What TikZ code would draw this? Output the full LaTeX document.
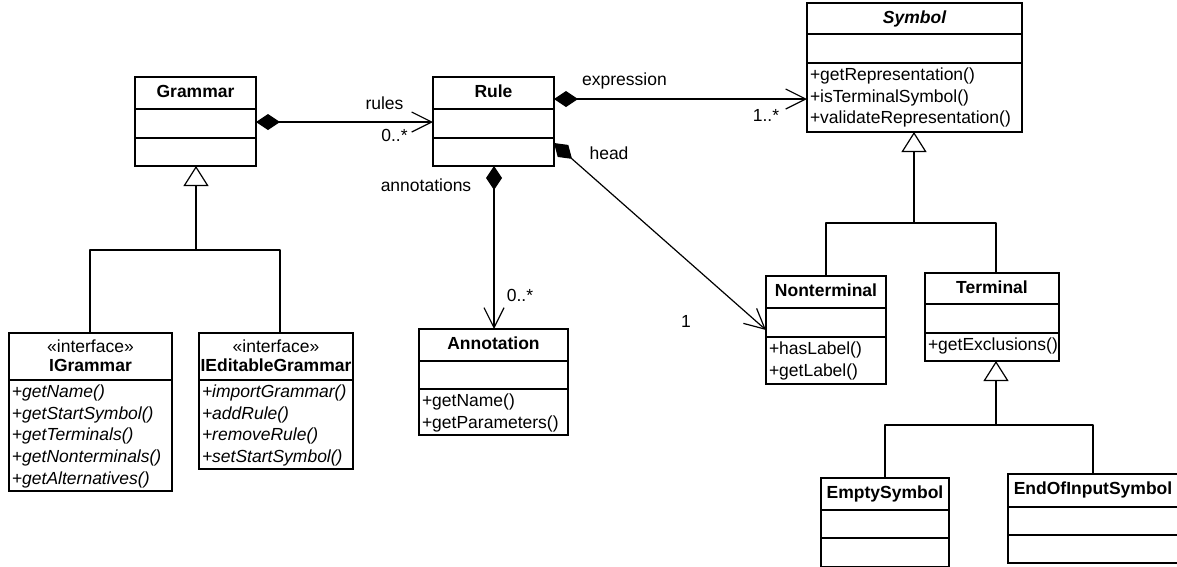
\documentclass[tikz,border=0pt]{standalone}
\usepackage{fontspec}
\setmainfont{Liberation Sans}
\usetikzlibrary{arrows.meta,calc}

\tikzset{
  box/.style={draw, line width=1.2pt, anchor=north west, inner sep=0pt, outer sep=0pt},
  sepl/.style={line width=1.2pt},
  txt/.style={inner sep=0pt, outer sep=0pt, text height=12.8pt, text depth=3.7pt,
    font=\fontsize{17.5}{21.7}\selectfont},
  cname/.style={txt, font=\fontsize{17.5}{21.7}\selectfont\bfseries},
  conn/.style={line width=1.2pt, line join=round},
  comp/.style={conn, {Diamond[length=24pt,width=16pt,fill=black]}-{Straight Barb[length=20pt,width=20pt]}},
  gen/.style={conn, -{Triangle[length=20pt,width=25pt,fill=white]}},
}

% class box: name, x, y, width, height
\newcommand\umlclassbox[5]{\node[box, minimum width=#4pt, minimum height=#5pt] (#1) at (#2,#3) {};}
% separator: name, offset from top
\newcommand\umlsep[2]{\draw[sepl] ($(#1.north west)+(0,#2)$) -- ($(#1.north east)+(0,#2)$);}
% operations: name, x, top of compartment, list
\newcommand\umlops[4]{\foreach \t [count=\i] in {#4}
  \node[txt, anchor=west] (#1-op\i) at (#2, {#3+13+(\i-1)*21.7}) {\t};}

\begin{document}
\begin{tikzpicture}[x=1pt, y=-1pt]
\useasboundingbox (0,0) rectangle (1177,566);

% Grammar
\umlclassbox{Grammar}{135}{77}{121}{89}
\umlsep{Grammar}{32}\umlsep{Grammar}{61}
\node[cname] (Grammar-name) at (195.5,93) {Grammar};

% Rule
\umlclassbox{Rule}{433}{77}{121}{89}
\umlsep{Rule}{32}\umlsep{Rule}{61}
\node[cname] (Rule-name) at (493.5,93) {Rule};

% Symbol
\umlclassbox{Symbol}{807}{3}{215}{129}
\umlsep{Symbol}{31}\umlsep{Symbol}{60}
\node[cname, font=\fontsize{17.5}{21.7}\selectfont\bfseries\itshape] (Symbol-name) at (914.5,18.5) {Symbol};
\umlops{Symbol}{810}{63}{+getRepresentation(),+isTerminalSymbol(),+validateRepresentation()}

% Annotation
\umlclassbox{Annotation}{419}{329}{149}{106}
\umlsep{Annotation}{32}\umlsep{Annotation}{60}
\node[cname] (Annotation-name) at (493.5,345) {Annotation};
\umlops{Annotation}{422}{389}{+getName(),+getParameters()}

% Nonterminal
\umlclassbox{Nonterminal}{766}{276}{120}{108}
\umlsep{Nonterminal}{32}\umlsep{Nonterminal}{61}
\node[cname] (Nonterminal-name) at (826,292) {Nonterminal};
\umlops{Nonterminal}{769}{337}{+hasLabel(),+getLabel()}

% Terminal
\umlclassbox{Terminal}{925}{273}{134}{88}
\umlsep{Terminal}{31}\umlsep{Terminal}{60}
\node[cname] (Terminal-name) at (992,288.5) {Terminal};
\umlops{Terminal}{928}{333}{+getExclusions()}

% IGrammar
\umlclassbox{IGrammar}{9}{333}{163}{158}
\umlsep{IGrammar}{47}
\node[txt] (IGrammar-st) at (90.5,348.3) {«interface»};
\node[cname] (IGrammar-name) at (90.5,366.7) {IGrammar};
\umlops{IGrammar}{12}{380}{{\itshape +getName()},{\itshape +getStartSymbol()},{\itshape +getTerminals()},{\itshape +getNonterminals()},{\itshape +getAlternatives()}}

% IEditableGrammar
\umlclassbox{IEditableGrammar}{199}{333}{154}{136}
\umlsep{IEditableGrammar}{47}
\node[txt] (IEditableGrammar-st) at (276,348.3) {«interface»};
\node[cname] (IEditableGrammar-name) at (276,366.7) {IEditableGrammar};
\umlops{IEditableGrammar}{202}{380}{{\itshape +importGrammar()},{\itshape +addRule()},{\itshape +removeRule()},{\itshape +setStartSymbol()}}

% EmptySymbol
\umlclassbox{EmptySymbol}{821}{478}{128}{89}
\umlsep{EmptySymbol}{32}\umlsep{EmptySymbol}{60}
\node[cname] (EmptySymbol-name) at (885,493.5) {EmptySymbol};

% EndOfInputSymbol
\umlclassbox{EndOfInputSymbol}{1008}{474}{170}{89}
\umlsep{EndOfInputSymbol}{33}\umlsep{EndOfInputSymbol}{61}
\node[cname] (EndOfInputSymbol-name) at (1093,490) {EndOfInputSymbol};

% Compositions
\draw[comp] ($(Grammar.north east)+(0,45)$) -- ($(Rule.north west)+(0,45)$);
\node[txt] (l-rules) at (384.5,105) {rules};
\node[txt] (l-rules-m) at (394.5,137) {0..*};

\draw[comp] ($(Rule.north east)+(0,22)$) -- ($(Symbol.north west)+(0,96)$);
\node[txt] (l-expr) at (624.5,81) {expression};
\node[txt] (l-expr-m) at (766,117) {1..*};

\draw[comp] ($(Rule.north east)+(0,66)$) -- ($(Nonterminal.north west)+(0,54)$);
\node[txt] (l-head) at (609,155) {head};
\node[txt] (l-head-m) at (686,323) {1};

\draw[comp] ($(Rule.south west)+(61,0)$) -- ($(Annotation.north west)+(75,0)$);
\node[txt] (l-ann) at (426,187) {annotations};
\node[txt] (l-ann-m) at (520,297) {0..*};

% Generalizations
\coordinate (g1) at (196,250);
\draw[gen] ($(IGrammar.north west)+(81,0)$) |- (g1) -- ($(Grammar.south west)+(61,0)$);
\draw[conn] ($(IEditableGrammar.north west)+(81,0)$) |- (g1);

\coordinate (g2) at (914,223);
\draw[gen] ($(Nonterminal.north west)+(60,0)$) |- (g2) -- ($(Symbol.south west)+(107,0)$);
\draw[conn] ($(Terminal.north west)+(71,0)$) |- (g2);

\coordinate (g3) at (996,425);
\draw[gen] ($(EmptySymbol.north west)+(64,0)$) |- (g3) -- ($(Terminal.south west)+(71,0)$);
\draw[conn] ($(EndOfInputSymbol.north west)+(85,0)$) |- (g3);
\end{tikzpicture}
\end{document}
